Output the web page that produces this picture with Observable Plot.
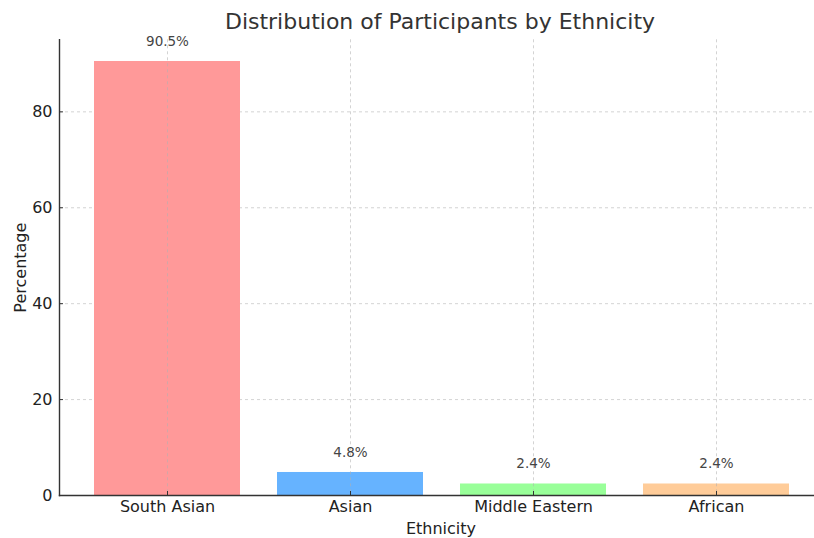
<!DOCTYPE html>
<html>
<head>
<meta charset="utf-8">
<script src="https://cdn.jsdelivr.net/npm/d3@7"></script>
<script src="https://cdn.jsdelivr.net/npm/@observablehq/plot@0.6"></script>
<style>
  html, body { margin: 0; padding: 0; background: #fff; overflow: hidden; }
  #title { width: 814px; box-sizing: border-box; padding-left: 66px; height: 30px; line-height: 44px;
           text-align: center; font-family: "DejaVu Sans", sans-serif; font-size: 22px; color: #333; white-space: nowrap; }
</style>
</head>
<body>
<div id="title">Distribution of Participants by Ethnicity</div>
<div id="chart"></div>
<script>
const categories = ["South Asian", "Asian", "Middle Eastern", "African"];
const percentages = [90.5, 4.8, 2.4, 2.4];
const colors = ["#ff9999", "#66b3ff", "#99ff99", "#ffcc99"];
const yTicks = [0, 20, 40, 60, 80];
const labels = ["90.5%", "4.8%", "2.4%", "2.4%"];

const data = categories.map((c, i) => ({category: c, value: percentages[i], label: labels[i]}));

const chart = Plot.plot({
  width: 814,
  height: 508,
  marginLeft: 59,
  marginRight: 0,
  marginTop: 9.3,
  marginBottom: 43,
  style: {fontFamily: "DejaVu Sans, sans-serif", fontSize: "16px", color: "#222", background: "white"},
  x: {domain: categories, range: [59, 824], paddingInner: 0.2, paddingOuter: 0.19, label: null},
  y: {domain: [0, 95.025], label: null},
  color: {domain: categories, range: colors},
  marks: [
    Plot.gridY(yTicks, {stroke: "#b0b0b0", strokeOpacity: 0.7, strokeDasharray: "3,3", strokeWidth: 0.8}),
    Plot.barY(data, {x: "category", y: "value", fill: "category"}),
    Plot.gridX(categories, {stroke: "#b0b0b0", strokeOpacity: 0.7, strokeDasharray: "3,3", strokeWidth: 0.8}),
    Plot.text(data, {x: "category", y: "value", text: "label", dy: -20, lineAnchor: "middle", fontSize: 13.5, fill: "#444"}),
    Plot.frame({anchor: "left", stroke: "#333", strokeWidth: 1.4}),
    Plot.frame({anchor: "bottom", stroke: "#333", strokeWidth: 1.4}),
    Plot.axisY(yTicks, {tickSize: -4, text: null, stroke: "#333"}),
    Plot.axisY(yTicks, {tickSize: 0, tickPadding: 7, fill: "#222", label: null, fontSize: 16}),
    Plot.axisX({tickSize: -4, text: null, stroke: "#333", label: null}),
    Plot.axisX({tickSize: 0, tickPadding: 5, fill: "#222", label: null, fontSize: 16}),
    Plot.text(["Percentage"], {frameAnchor: "left", rotate: -90, dx: -39, fontSize: 16, fill: "#222", lineAnchor: "middle", textAnchor: "middle"}),
    Plot.text(["Ethnicity"], {frameAnchor: "bottom", dy: 33, dx: 4, fontSize: 16, fill: "#222", lineAnchor: "middle"})
  ]
});
document.getElementById("chart").appendChild(chart);
</script>
</body>
</html>
